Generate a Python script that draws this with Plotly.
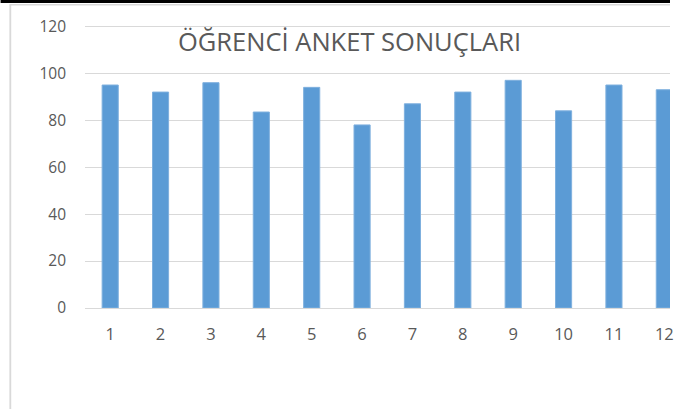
import plotly.graph_objects as go

categories = ["1", "2", "3", "4", "5", "6", "7", "8", "9", "10", "11", "12"]
values = [95, 92, 96, 83.5, 94, 78, 87, 92, 97, 84, 95, 93]
y_ticks = [0, 20, 40, 60, 80, 100, 120]
title_text = "ÖĞRENCİ ANKET SONUÇLARI"

W, H = 674, 409
ML, MR, MT, MB = 85, 0, 24, 101
pw = W - ML - MR
ph = H - MT - MB
Y_TOP = 121

def px_x(px):
    return (px - ML) / pw

def px_y(py):
    return (H - MB - py) / ph

fig = go.Figure(go.Bar(
    x=list(range(1, len(categories) + 1)),
    y=values,
    width=0.32,
    marker=dict(color="#5B9BD5", line=dict(color="#7FB0DE", width=1)),
))

font_family = "Open Sans, DejaVu Sans, sans-serif"
gray = "#595959"

fig.update_layout(
    width=W, height=H,
    margin=dict(l=ML, r=MR, t=MT, b=MB),
    paper_bgcolor="white", plot_bgcolor="white",
    showlegend=False,
    font=dict(family=font_family, color=gray, size=15),
    xaxis=dict(
        range=[0.5, 0.5 + pw / 50.72],
        tickmode="array",
        tickvals=list(range(1, len(categories) + 1)),
        ticktext=categories,
        showgrid=False, zeroline=False,
        showline=True, linecolor="#D9D9D9", linewidth=1,
        ticks="", ticklabelstandoff=11,
        ticklabeloverflow="allow",
        tickfont=dict(size=16.5, color=gray),
    ),
    yaxis=dict(
        range=[0, Y_TOP],
        tickmode="array",
        tickvals=y_ticks,
        ticktext=[str(v) for v in y_ticks],
        showgrid=True, gridcolor="#D9D9D9", gridwidth=1,
        zeroline=False, showline=False,
        ticks="", ticklabelstandoff=18,
        tickfont=dict(size=15.5, color=gray),
    ),
    annotations=[dict(
        text=title_text, xref="paper", yref="paper",
        x=px_x(351.5), y=px_y(41), xanchor="center", yanchor="middle",
        showarrow=False, font=dict(size=25.5, color=gray, family=font_family),
    )],
    shapes=[
        dict(type="rect", xref="paper", yref="paper",
             x0=px_x(0), x1=px_x(W), y0=px_y(3), y1=px_y(0),
             fillcolor="black", line=dict(width=0), layer="above"),
        dict(type="line", xref="paper", yref="paper",
             x0=px_x(9), x1=px_x(W), y0=px_y(4.8), y1=px_y(4.8),
             line=dict(color="#D9D9D9", width=1.5), layer="above"),
        dict(type="line", xref="paper", yref="paper",
             x0=px_x(9.8), x1=px_x(9.8), y0=px_y(4.8), y1=px_y(H),
             line=dict(color="#D9D9D9", width=1.8), layer="above"),
    ],
)

fig.write_html(
    "out.html",
    config={"displayModeBar": False},
    post_script="document.body.style.margin='0px';",
)
